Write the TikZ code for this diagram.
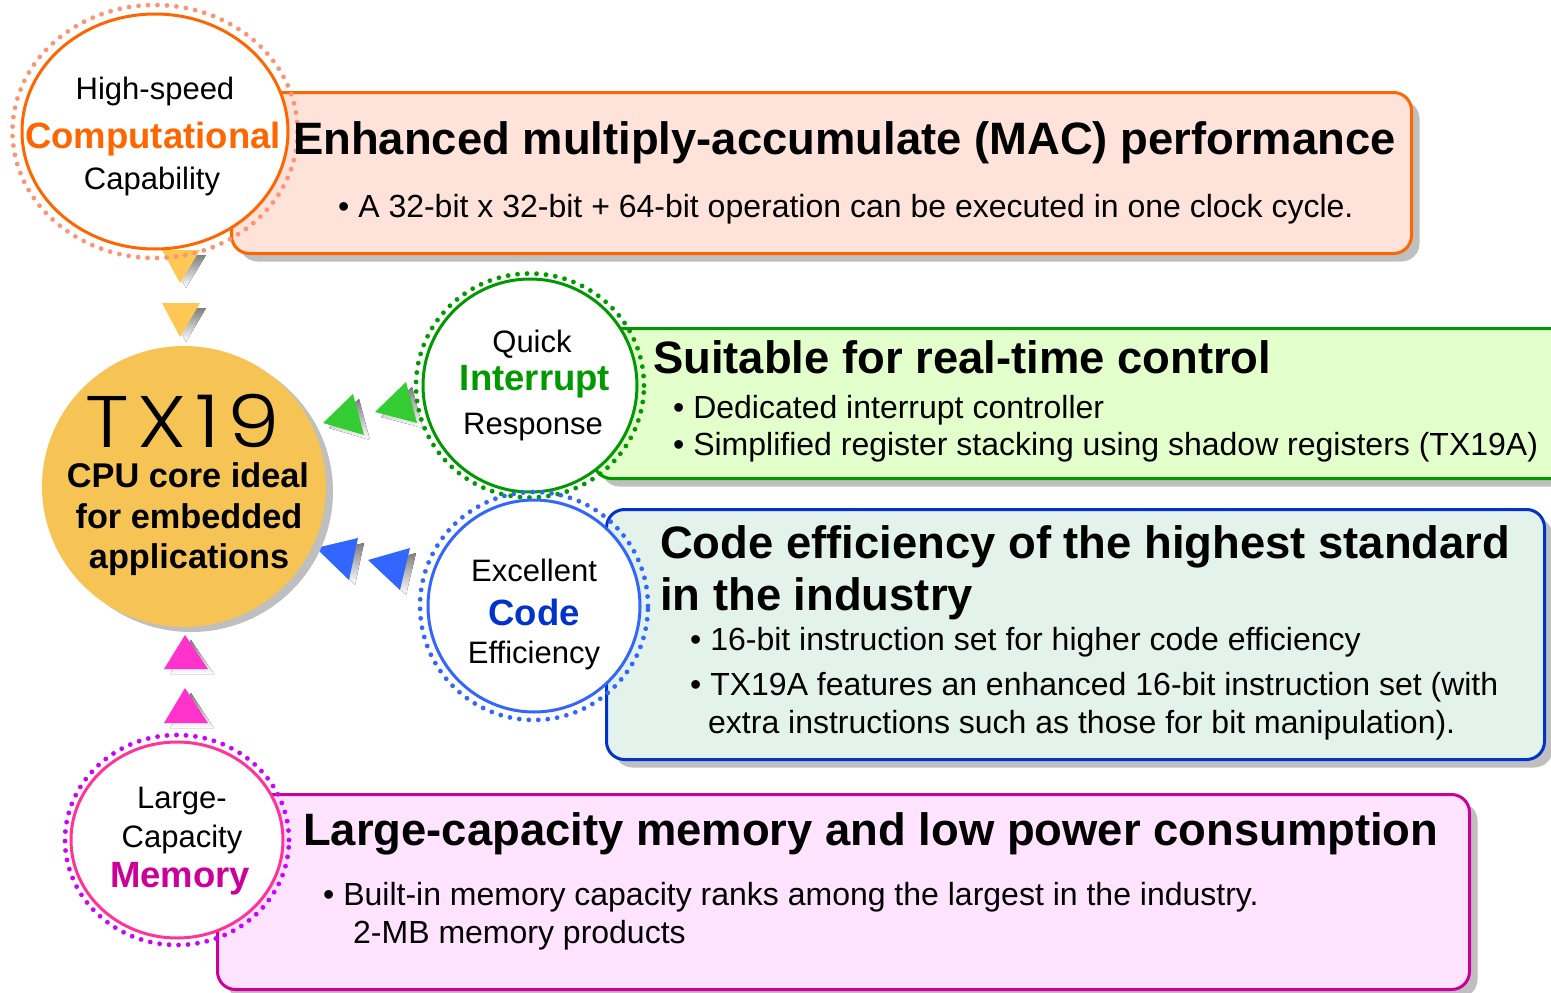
\documentclass[tikz,border=0pt]{standalone}
\usepackage{fontspec}
\setmainfont{Liberation Sans}
\newfontfamily\thinfont{Poppins}[UprightFont=* Light, LetterSpace=10]
\usepackage{tikz}
\usetikzlibrary{shapes.geometric,shadows}
\definecolor{shade}{rgb}{0.75, 0.75, 0.75}
\definecolor{cmpline}{rgb}{1.0, 0.4, 0.0}
\definecolor{cmpdot}{rgb}{1.0, 0.58, 0.45}
\definecolor{cmpfill}{rgb}{1.0, 0.89, 0.86}
\definecolor{cmptri}{rgb}{1.0, 0.78, 0.33}
\definecolor{cpuyellow}{rgb}{0.96, 0.77, 0.33}
\definecolor{irqline}{rgb}{0.0, 0.6, 0.0}
\definecolor{irqfill}{rgb}{0.89, 1.0, 0.8}
\definecolor{irqtri}{rgb}{0.2, 0.8, 0.2}
\definecolor{codecircle}{rgb}{0.2, 0.4, 1.0}
\definecolor{codeline}{rgb}{0.0, 0.2, 0.8}
\definecolor{codefill}{rgb}{0.89, 0.95, 0.92}
\definecolor{memcircle}{rgb}{1.0, 0.2, 0.6}
\definecolor{memdot}{rgb}{0.8, 0.0, 1.0}
\definecolor{memline}{rgb}{0.8, 0.0, 0.6}
\definecolor{memfill}{rgb}{1.0, 0.89, 1.0}
\definecolor{memtri}{rgb}{1.0, 0.2, 0.8}

% triangle with its grey shadow: colour, three corners
\newcommand{\flag}[4]{%
  \fill[shade, xshift=6pt, yshift=-5pt] #2 -- #3 -- #4 -- cycle;
  \fill[#1] #2 -- #3 -- #4 -- cycle;}

\begin{document}
\begin{tikzpicture}[x=1pt,y=-1pt]
\tikzstyle{panel}=[rectangle, rounded corners=18pt, line width=3pt, inner sep=0, anchor=north west, drop shadow={shadow xshift=8pt, shadow yshift=-8pt, fill=shade, opacity=1}]
\tikzstyle{disc}=[ellipse, inner sep=0, fill=white, line width=3pt]
\tikzstyle{ring}=[ellipse, inner sep=0, line width=4.8pt, dash pattern=on 0pt off 9.5pt, line cap=round]
\tikzstyle{boxhead}=[anchor=base west, inner sep=0, font=\fontsize{45.4}{54}\selectfont\bfseries]
\tikzstyle{boxitem}=[anchor=base west, inner sep=0, font=\fontsize{32}{38}\selectfont]
\tikzstyle{ringword}=[anchor=base, inner sep=0, font=\fontsize{31}{37}\selectfont]
\tikzstyle{ringkey}=[anchor=base, inner sep=0, font=\fontsize{36.5}{44}\selectfont\bfseries]
\tikzstyle{cpuword}=[anchor=base, inner sep=0, font=\fontsize{34.3}{40}\selectfont\bfseries]
\useasboundingbox (0,0) rectangle (1551,993);
\clip (0,0) rectangle (1551,993);

	% boxes
	\node[panel, draw=cmpline, fill=cmpfill, minimum width=1180pt, minimum height=161pt] (macbox) at (230,91) {};
	\node[panel, draw=irqline, fill=irqfill, minimum width=1000pt, minimum height=150pt] (irqbox) at (592,327) {};
	\node[panel, draw=codeline, fill=codefill, minimum width=938pt, minimum height=250pt] (codebox) at (605,508) {};
	\node[panel, draw=memline, fill=memfill, minimum width=1252pt, minimum height=195pt] (membox) at (216,793) {};

	% triangles
	\flag{cmptri}{(162,250)}{(200,250)}{(180,283)}
	\flag{cmptri}{(162,303)}{(200,303)}{(180,337)}
	\flag{irqtri}{(323,423)}{(353,394)}{(364,435)}
	\flag{irqtri}{(375,412)}{(406,382)}{(417,423)}
	\flag{codecircle}{(316,548)}{(358,538)}{(349,580)}
	\flag{codecircle}{(368,560)}{(410,548)}{(400,590)}
	\flag{memtri}{(185,635)}{(164,669)}{(208,669)}
	\flag{memtri}{(185,688)}{(164,723)}{(208,723)}

	% core
	\node[ellipse, inner sep=0, fill=cpuyellow, minimum width=284pt, minimum height=281pt, drop shadow={shadow xshift=7pt, shadow yshift=-5pt, fill=shade, opacity=1}] (cpu) at (184,486.5) {};

	% circles
	\node[disc, draw=cmpline, minimum width=266pt, minimum height=235pt] (cmp) at (155,131.5) {};
	\node[ring, draw=cmpdot, minimum width=285pt, minimum height=253pt] (cmpdots) at (cmp) {};
	\node[disc, draw=irqline, minimum width=214pt, minimum height=213pt] (irq) at (530,385.5) {};
	\node[ring, draw=irqline, minimum width=228pt, minimum height=224pt] (irqdots) at (irq) {};
	\node[disc, draw=codecircle, minimum width=212pt, minimum height=212pt] (code) at (534,606) {};
	\node[ring, draw=codecircle, minimum width=228pt, minimum height=228pt] (codedots) at (code) {};
	\node[disc, draw=memcircle, minimum width=212pt, minimum height=196pt] (mem) at (177,840) {};
	\node[ring, draw=memdot, minimum width=224pt, minimum height=210pt] (memdots) at (mem) {};

	% circle texts
	\node[ringword] (cmp_1) at (155,99) {High-speed};
	\node[ringkey, text=cmpline] (cmp_2) at (153,148) {Computational};
	\node[ringword] (cmp_3) at (152,189) {Capability};
	\node[ringword] (irq_1) at (532,352) {Quick};
	\node[ringkey, text=irqline] (irq_2) at (535,390) {Interrupt};
	\node[ringword] (irq_3) at (533,434) {Response};
	\node[ringword] (code_1) at (534,581) {Excellent};
	\node[ringkey, text=codeline] (code_2) at (534,625) {Code};
	\node[ringword] (code_3) at (534,663) {Efficiency};
	\node[ringword] (mem_1) at (182,808) {Large-};
	\node[ringword] (mem_2) at (182,847) {Capacity};
	\node[ringkey, text=memline] (mem_3) at (180,887) {Memory};
	\node[anchor=base, inner sep=0, text depth=0pt, font=\thinfont\fontsize{73}{80}\selectfont] (cpu_0) at (183,447) {\scalebox{1.15}[1]{TX19}};
	\node[cpuword] (cpu_1) at (188,487) {CPU core ideal};
	\node[cpuword] (cpu_2) at (189,528) {for embedded};
	\node[cpuword] (cpu_3) at (189,568) {applications};

	% box texts
	\node[boxhead] (mac_0) at (293,154) {Enhanced multiply-accumulate (MAC) performance};
	\node[boxitem] (mac_1) at (338,217) {\textbullet\ A 32-bit x 32-bit + 64-bit operation can be executed in one clock cycle.};
	\node[boxhead] (irq_0) at (653,373) {Suitable for real-time control};
	\node[boxitem] (irq_4) at (673,418) {\textbullet\ Dedicated interrupt controller};
	\node[boxitem] (irq_5) at (673,455) {\textbullet\ Simplified register stacking using shadow registers (TX19A)};
	\node[boxhead] (code_0) at (660,558) {Code efficiency of the highest standard};
	\node[boxhead] (code_4) at (660,610) {in the industry};
	\node[boxitem] (code_5) at (690,650) {\textbullet\ 16-bit instruction set for higher code efficiency};
	\node[boxitem] (code_6) at (690,695) {\textbullet\ TX19A features an enhanced 16-bit instruction set (with};
	\node[boxitem] (code_7) at (708,733) {extra instructions such as those for bit manipulation).};
	\node[boxhead] (mem_0) at (303,845) {Large-capacity memory and low power consumption};
	\node[boxitem] (mem_4) at (323,905) {\textbullet\ Built-in memory capacity ranks among the largest in the industry.};
	\node[boxitem] (mem_5) at (353,943) {2-MB memory products};
\end{tikzpicture}
\end{document}
